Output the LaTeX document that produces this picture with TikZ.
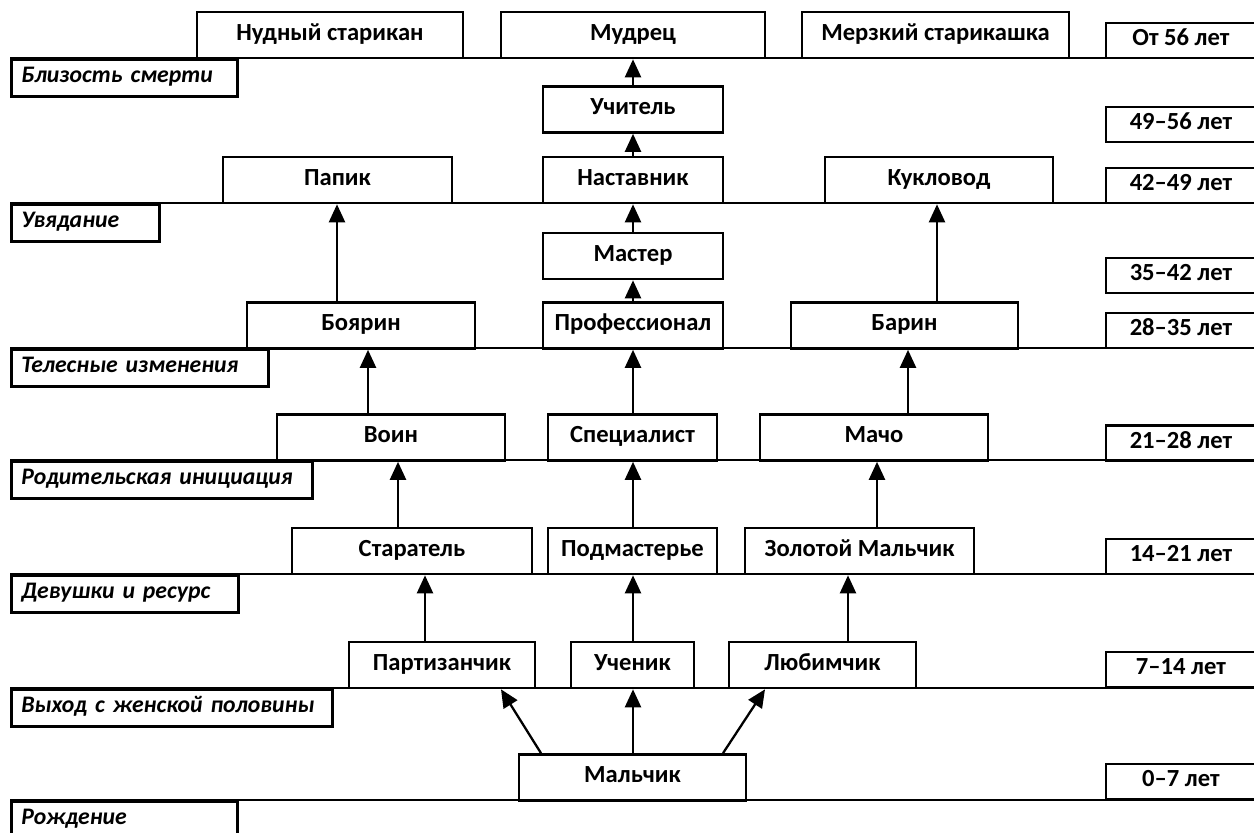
\documentclass[tikz,border=0pt]{standalone}
\usepackage{fontspec}
\setmainfont{Carlito}
\newfontfamily\phasefont{Carlito}[WordSpace=0.75]
\usetikzlibrary{arrows.meta}
\begin{document}
\begin{tikzpicture}[x=0.02cm,y=-0.02cm,
	stage/.style={draw, line width=1.5pt, minimum height=0.92cm, inner sep=0pt, text height=1.6ex, text depth=0.3ex, font=\fontsize{14pt}{16pt}\selectfont\bfseries},
	age/.style={draw, line width=1.5pt, minimum width=3cm, minimum height=0.7cm, inner sep=0pt, text height=1.6ex, text depth=0.3ex, font=\fontsize{14pt}{16pt}\selectfont\bfseries},
	phase/.style={draw, line width=1.5pt, anchor=north west, inner xsep=0.2cm, inner ysep=0pt, minimum height=0.74cm, text height=1.6ex, text depth=0.4ex, align=left, font=\phasefont\fontsize{13.5pt}{16pt}\selectfont\bfseries\itshape},
	arr/.style={line width=1.3pt, -{Triangle[length=0.36cm,width=0.32cm]}}]
		\useasboundingbox (0,0) rectangle (1254,832);
		% levels
		\foreach \y in {58,203,348,460,574,688,800}
			\draw[line width=1.5pt] (10,\y) -- (1254,\y);
		% stages
		\node[stage, minimum width=5.32cm] (nudny) at (330,35) {Нудный старикан};
		\node[stage, minimum width=5.28cm] (mudrec) at (633,35) {Мудрец};
		\node[stage, minimum width=5.34cm] (merzky) at (935.5,35) {Мерзкий старикашка};
		\node[stage, minimum width=3.6cm] (uchitel) at (633,109.5) {Учитель};
		\node[stage, minimum width=4.58cm] (papik) at (337.5,180) {Папик};
		\node[stage, minimum width=3.6cm] (nastavnik) at (633,180) {Наставник};
		\node[stage, minimum width=4.56cm] (kuklovod) at (939,180) {Кукловод};
		\node[stage, minimum width=3.6cm] (master) at (633,256) {Мастер};
		\node[stage, minimum width=4.56cm] (boyarin) at (361,325.5) {Боярин};
		\node[stage, minimum width=3.6cm] (profi) at (633,325.5) {Профессионал};
		\node[stage, minimum width=4.54cm] (barin) at (904.5,325.5) {Барин};
		\node[stage, minimum width=4.56cm] (voin) at (391,437.5) {Воин};
		\node[stage, minimum width=3.38cm] (specialist) at (632.5,437.5) {Специалист};
		\node[stage, minimum width=4.56cm] (macho) at (874,437.5) {Мачо};
		\node[stage, minimum width=4.8cm] (staratel) at (412,551) {Старатель};
		\node[stage, minimum width=3.38cm] (podmaster) at (632.5,551) {Подмастерье};
		\node[stage, minimum width=4.58cm] (zolotoy) at (859.5,551) {Золотой Мальчик};
		\node[stage, minimum width=3.72cm] (partizan) at (442,665) {Партизанчик};
		\node[stage, minimum width=2.46cm] (uchenik) at (632.5,665) {Ученик};
		\node[stage, minimum width=3.74cm] (lyubim) at (822.5,665) {Любимчик};
		\node[stage, minimum width=4.54cm] (malchik) at (632.5,777.5) {Мальчик};
		% ages
		\node[age] (a56) at (1181,40.5) {От 56 лет};
		\node[age] (a49) at (1181,124.5) {49–56 лет};
		\node[age] (a42) at (1181,185.5) {42–49 лет};
		\node[age] (a35) at (1181,275.5) {35–42 лет};
		\node[age] (a28) at (1181,330.5) {28–35 лет};
		\node[age] (a21) at (1181,443) {21–28 лет};
		\node[age] (a14) at (1181,556.5) {14–21 лет};
		\node[age] (a7) at (1181,669.5) {7–14 лет};
		\node[age] (a0) at (1181,781.5) {0–7 лет};
		% phases
		\node[phase, text width=4.12cm] (death) at (10,58) {Близость смерти};
		\node[phase, text width=2.56cm] (fading) at (10,203) {Увядание};
		\node[phase, text width=4.74cm] (body) at (10,348) {Телесные изменения};
		\node[phase, text width=5.62cm] (parent) at (10,460) {Родительская инициация};
		\node[phase, text width=4.14cm] (girls) at (10,574) {Девушки и ресурс};
		\node[phase, text width=6.02cm] (exit) at (10,688) {Выход с женской половины};
		\node[phase, text width=4.12cm] (birth) at (10,800) {Рождение};
		% columns
		\coordinate (c0) at (633,0);
		\coordinate (l1) at (425,0);
		\coordinate (l2) at (398,0);
		\coordinate (l3) at (368,0);
		\coordinate (l4) at (337,0);
		\coordinate (r1) at (848,0);
		\coordinate (r2) at (877,0);
		\coordinate (r3) at (908,0);
		\coordinate (r4) at (937,0);
		\coordinate (dl) at (541,0);
		\coordinate (dl') at (501,0);
		\coordinate (dr) at (723,0);
		\coordinate (dr') at (765,0);
		% arrows
		\draw[arr] (malchik.north -| dl) -- (partizan.south -| dl');
		\draw[arr] (malchik.north -| c0) -- (uchenik.south -| c0);
		\draw[arr] (malchik.north -| dr) -- (lyubim.south -| dr');
		\draw[arr] (partizan.north -| l1) -- (staratel.south -| l1);
		\draw[arr] (staratel.north -| l2) -- (voin.south -| l2);
		\draw[arr] (voin.north -| l3) -- (boyarin.south -| l3);
		\draw[arr] (boyarin.north -| l4) -- (papik.south -| l4);
		\draw[arr] (uchenik.north -| c0) -- (podmaster.south -| c0);
		\draw[arr] (podmaster.north -| c0) -- (specialist.south -| c0);
		\draw[arr] (specialist.north -| c0) -- (profi.south -| c0);
		\draw[arr] (profi.north -| c0) -- (master.south -| c0);
		\draw[arr] (master.north -| c0) -- (nastavnik.south -| c0);
		\draw[arr] (nastavnik.north -| c0) -- (uchitel.south -| c0);
		\draw[arr] (uchitel.north -| c0) -- (mudrec.south -| c0);
		\draw[arr] (lyubim.north -| r1) -- (zolotoy.south -| r1);
		\draw[arr] (zolotoy.north -| r2) -- (macho.south -| r2);
		\draw[arr] (macho.north -| r3) -- (barin.south -| r3);
		\draw[arr] (barin.north -| r4) -- (kuklovod.south -| r4);
	\end{tikzpicture}
\end{document}
